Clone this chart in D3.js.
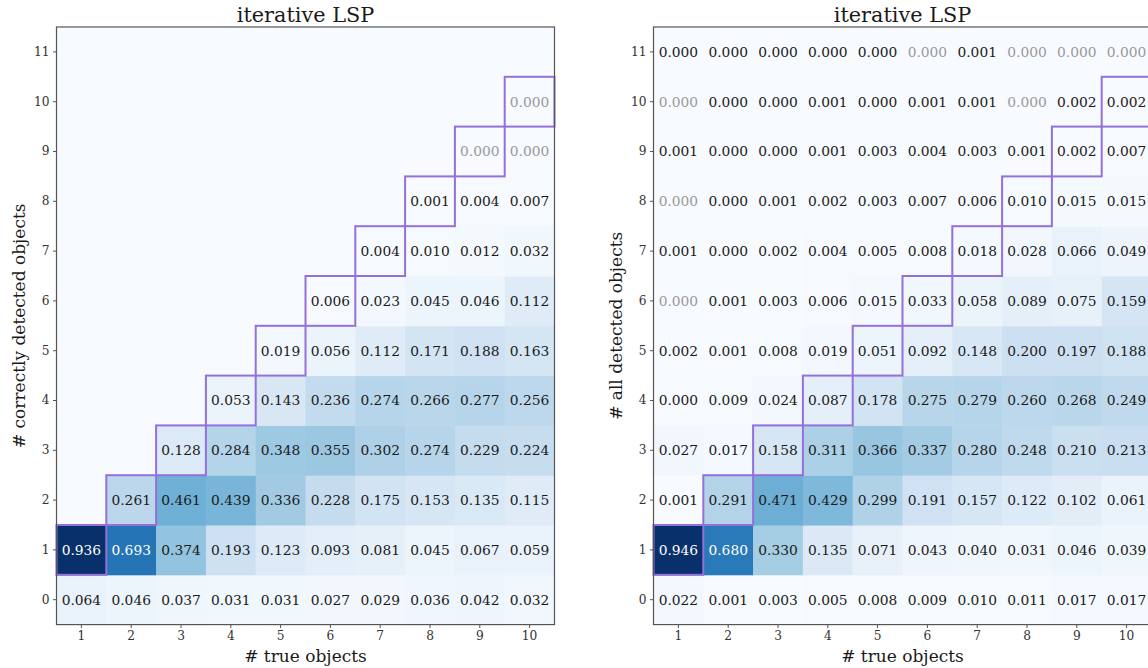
<!DOCTYPE html>
<html>
<head>
<meta charset="utf-8">
<script src="https://cdn.jsdelivr.net/npm/d3@7"></script>
<style>
  html, body { margin: 0; padding: 0; background: #fff; }
  svg { display: block; font-family: "DejaVu Serif", serif; }
</style>
</head>
<body>
<svg id="chart" width="1148" height="668"></svg>
<script>
// x categories and y categories
const trueObjects = [1, 2, 3, 4, 5, 6, 7, 8, 9, 10]
const detectedCounts = [0, 1, 2, 3, 4, 5, 6, 7, 8, 9, 10, 11]

// rows = detected count (0..11), columns = true objects (1..10)
// null = no cell drawn, 0 = exact zero (grey), 0.0003 = rounds to 0.000
const correctlyDetected = [
    [0.064, 0.046, 0.037, 0.031, 0.031, 0.027, 0.029, 0.036, 0.042, 0.032],
    [0.936, 0.693, 0.374, 0.193, 0.123, 0.093, 0.081, 0.045, 0.067, 0.059],
    [null, 0.261, 0.461, 0.439, 0.336, 0.228, 0.175, 0.153, 0.135, 0.115],
    [null, null, 0.128, 0.284, 0.348, 0.355, 0.302, 0.274, 0.229, 0.224],
    [null, null, null, 0.053, 0.143, 0.236, 0.274, 0.266, 0.277, 0.256],
    [null, null, null, null, 0.019, 0.056, 0.112, 0.171, 0.188, 0.163],
    [null, null, null, null, null, 0.006, 0.023, 0.045, 0.046, 0.112],
    [null, null, null, null, null, null, 0.004, 0.010, 0.012, 0.032],
    [null, null, null, null, null, null, null, 0.001, 0.004, 0.007],
    [null, null, null, null, null, null, null, null, 0, 0],
    [null, null, null, null, null, null, null, null, null, 0],
    [null, null, null, null, null, null, null, null, null, null]
]

const allDetected = [
    [0.022, 0.001, 0.003, 0.005, 0.008, 0.009, 0.010, 0.011, 0.017, 0.017],
    [0.946, 0.680, 0.330, 0.135, 0.071, 0.043, 0.040, 0.031, 0.046, 0.039],
    [0.001, 0.291, 0.471, 0.429, 0.299, 0.191, 0.157, 0.122, 0.102, 0.061],
    [0.027, 0.017, 0.158, 0.311, 0.366, 0.337, 0.280, 0.248, 0.210, 0.213],
    [0.0003, 0.009, 0.024, 0.087, 0.178, 0.275, 0.279, 0.260, 0.268, 0.249],
    [0.002, 0.001, 0.008, 0.019, 0.051, 0.092, 0.148, 0.200, 0.197, 0.188],
    [0, 0.001, 0.003, 0.006, 0.015, 0.033, 0.058, 0.089, 0.075, 0.159],
    [0.001, 0.0003, 0.002, 0.004, 0.005, 0.008, 0.018, 0.028, 0.066, 0.049],
    [0, 0.0003, 0.001, 0.002, 0.003, 0.007, 0.006, 0.010, 0.015, 0.015],
    [0.001, 0.0003, 0.0003, 0.001, 0.003, 0.004, 0.003, 0.001, 0.002, 0.007],
    [0, 0.0003, 0.0003, 0.001, 0.0003, 0.001, 0.001, 0, 0.002, 0.002],
    [0.0003, 0.0003, 0.0003, 0.0003, 0.0003, 0, 0.001, 0, 0, 0]
]

const panels = [
    { title: 'iterative LSP', ylabel: '# correctly detected objects', values: correctlyDetected, left: 56.5 },
    { title: 'iterative LSP', ylabel: '# all detected objects', values: allDetected, left: 653.5 }
]

const plotTop = 27
const cell = 49.8
const plotW = cell * trueObjects.length
const plotH = cell * detectedCounts.length
const fmt = d3.format('.3f')
const spineColor = '#555'

const svg = d3.select('#chart')

panels.forEach(p => {
    const g = svg.append('g').attr('transform', `translate(${p.left},${plotTop})`)

    const x = d3.scaleBand().domain(trueObjects).range([0, plotW])
    const y = d3.scaleBand().domain(detectedCounts.slice().reverse()).range([0, plotH])

    const flat = []
    p.values.forEach((row, yi) => row.forEach((v, xi) => {
        flat.push({ x: trueObjects[xi], y: detectedCounts[yi], v: v })
    }))
    const vmax = d3.max(flat, d => d.v)
    const color = d3.scaleSequential(d3.interpolateBlues).domain([0, vmax])

    // background (empty cells)
    g.append('rect')
        .attr('width', plotW)
        .attr('height', plotH)
        .attr('fill', color(0))

    g.selectAll('rect.cell')
        .data(flat.filter(d => d.v !== null))
        .join('rect')
        .attr('class', 'cell')
        .attr('x', d => x(d.x))
        .attr('y', d => y(d.y))
        .attr('width', x.bandwidth() + 0.5)
        .attr('height', y.bandwidth() + 0.5)
        .attr('fill', d => color(d.v))

    g.selectAll('text.val')
        .data(flat.filter(d => d.v !== null))
        .join('text')
        .attr('class', 'val')
        .attr('x', d => x(d.x) + x.bandwidth() / 2)
        .attr('y', d => y(d.y) + y.bandwidth() / 2)
        .attr('dy', '0.36em')
        .attr('text-anchor', 'middle')
        .style('font-size', '13.8px')
        .attr('fill', d => d.v === 0 ? '#999' : (d.v > vmax / 2 ? '#fff' : '#1a1a1a'))
        .text(d => fmt(d.v))

    // diagonal outline boxes
    g.selectAll('rect.diag')
        .data(trueObjects.filter(t => detectedCounts.includes(t)))
        .join('rect')
        .attr('class', 'diag')
        .attr('x', d => x(d))
        .attr('y', d => y(d))
        .attr('width', x.bandwidth())
        .attr('height', y.bandwidth())
        .attr('fill', 'none')
        .attr('stroke', '#9370db')
        .attr('stroke-width', 2)

    // spines
    g.append('rect')
        .attr('width', plotW)
        .attr('height', plotH)
        .attr('fill', 'none')
        .attr('stroke', spineColor)
        .attr('stroke-width', 1.2)

    const xAxis = g.append('g')
        .attr('transform', `translate(0,${plotH})`)
        .call(d3.axisBottom(x).tickSize(3.5).tickPadding(3.5))
    const yAxis = g.append('g')
        .call(d3.axisLeft(y).tickSize(3.5).tickPadding(3.5))

    ;[xAxis, yAxis].forEach(a => {
        a.select('.domain').remove()
        a.selectAll('.tick line').attr('stroke', spineColor)
        a.selectAll('.tick text')
            .attr('fill', '#333')
            .style('font-family', '"DejaVu Serif", serif')
            .style('font-size', '12.2px')
    })

    g.append('text')
        .attr('x', plotW / 2)
        .attr('y', -5)
        .attr('text-anchor', 'middle')
        .style('font-size', '20.8px')
        .attr('fill', '#1a1a1a')
        .text(p.title)

    g.append('text')
        .attr('x', plotW / 2)
        .attr('y', plotH + 37)
        .attr('text-anchor', 'middle')
        .style('font-size', '17px')
        .attr('fill', '#1a1a1a')
        .text('# true objects')

    g.append('text')
        .attr('transform', `translate(-32,${plotH / 2}) rotate(-90)`)
        .attr('text-anchor', 'middle')
        .style('font-size', '17px')
        .attr('fill', '#1a1a1a')
        .text(p.ylabel)
})
</script>
</body>
</html>
